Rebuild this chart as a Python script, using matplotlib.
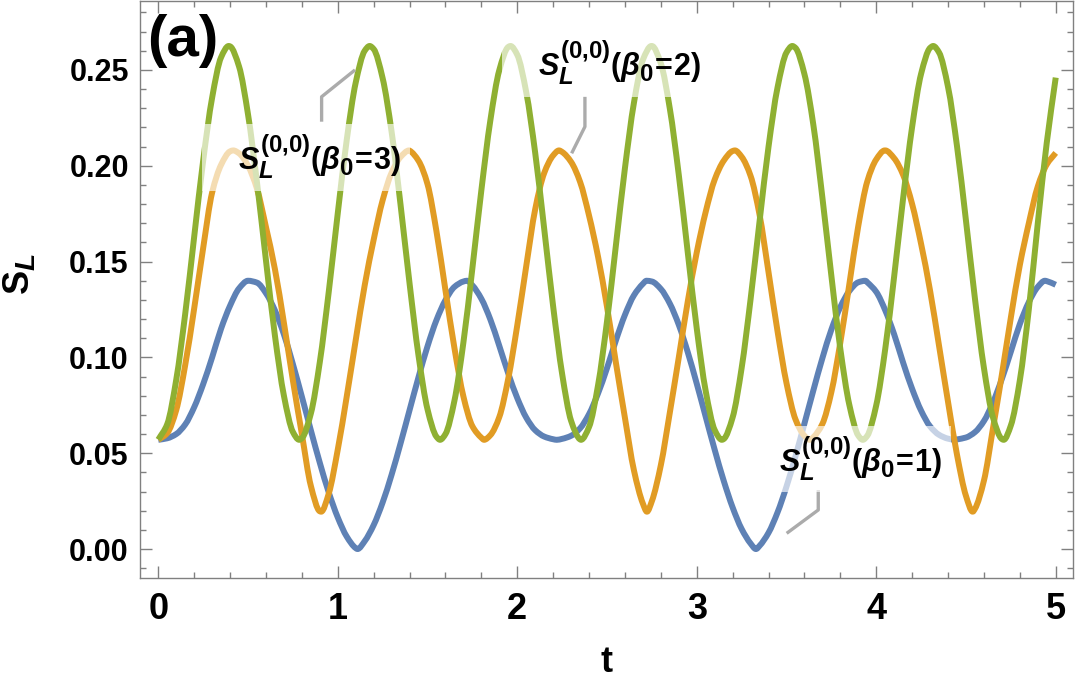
import numpy as np
import matplotlib
matplotlib.use("Agg")
from matplotlib import pyplot as plt
import matplotlib._mathtext as mtext
from matplotlib.path import Path
from matplotlib.patches import PathPatch
from matplotlib.ticker import MultipleLocator, FormatStrFormatter

plt.rcParams['font.family'] = ['Liberation Sans', 'DejaVu Sans']
plt.rcParams['font.weight'] = 'bold'
plt.rcParams['mathtext.fontset'] = 'custom'
plt.rcParams['mathtext.rm'] = 'Liberation Sans:bold'
plt.rcParams['mathtext.it'] = 'Liberation Sans:italic:bold'
plt.rcParams['mathtext.bf'] = 'Liberation Sans:bold'
mtext.SHRINK_FACTOR = 0.78  # slightly larger super/subscripts

# sampling times, step 0.05
t = np.linspace(0, 5, 101)

# S_L for beta0 = 1 (blue)
s_beta1 = [
    0.0570, 0.0578, 0.0600, 0.0650, 0.0740, 0.0860, 0.1000, 0.1150, 0.1270, 0.1360,
    0.1400, 0.1390, 0.1335, 0.1245, 0.1120, 0.0965, 0.0795, 0.0620, 0.0450, 0.0295,
    0.0165, 0.0065, 0.0005, 0.0041, 0.0125, 0.0243, 0.0388, 0.0552, 0.0725, 0.0897,
    0.1058, 0.1195, 0.1299, 0.1368, 0.1396, 0.1376, 0.1306, 0.1198, 0.1060, 0.0916,
    0.0788, 0.0686, 0.0620, 0.0587, 0.0573, 0.0575, 0.0591, 0.0630, 0.0704, 0.0812,
    0.0944, 0.1090, 0.1222, 0.1324, 0.1384, 0.1396, 0.1357, 0.1281, 0.1170, 0.1027,
    0.0863, 0.0690, 0.0518, 0.0357, 0.0217, 0.0105, 0.0029, 0.0017, 0.0085, 0.0191,
    0.0326, 0.0484, 0.0655, 0.0829, 0.0996, 0.1145, 0.1263, 0.1346, 0.1392, 0.1392,
    0.1342, 0.1246, 0.1120, 0.0972, 0.0836, 0.0722, 0.0640, 0.0596, 0.0576, 0.0572,
    0.0582, 0.0610, 0.0668, 0.0764, 0.0888, 0.1030, 0.1174, 0.1288, 0.1368, 0.1398,
    0.1379]
# turning points
t_ext1 = [1.11, 1.72, 2.22, 2.72, 3.33, 3.94, 4.44, 4.94]
s_ext1 = [0.0, 0.140, 0.057, 0.140, 0.0, 0.140, 0.057, 0.140]

# S_L for beta0 = 2 (orange)
s_beta2 = [
    0.0570, 0.0605, 0.0725, 0.0960, 0.1255, 0.1570, 0.1860, 0.2005, 0.2075, 0.2065,
    0.2000, 0.1880, 0.1680, 0.1460, 0.1180, 0.0880, 0.0600, 0.0330, 0.0197, 0.0290,
    0.0519, 0.0796, 0.1090, 0.1376, 0.1614, 0.1820, 0.1964, 0.2046, 0.2079, 0.2026,
    0.1904, 0.1657, 0.1350, 0.1049, 0.0796, 0.0641, 0.0581, 0.0594, 0.0689, 0.0890,
    0.1167, 0.1476, 0.1773, 0.1962, 0.2054, 0.2072, 0.2020, 0.1916, 0.1740, 0.1526,
    0.1264, 0.0970, 0.0684, 0.0411, 0.0237, 0.0250, 0.0438, 0.0712, 0.1000, 0.1292,
    0.1548, 0.1760, 0.1928, 0.2026, 0.2077, 0.2047, 0.1947, 0.1744, 0.1444, 0.1137,
    0.0866, 0.0677, 0.0591, 0.0584, 0.0653, 0.0819, 0.1078, 0.1381, 0.1686, 0.1918,
    0.2033, 0.2080, 0.2039, 0.1952, 0.1800, 0.1592, 0.1348, 0.1060, 0.0768, 0.0492,
    0.0277, 0.0210, 0.0357, 0.0628, 0.0910, 0.1208, 0.1482, 0.1700, 0.1892, 0.2007,
    0.2067]
t_ext2 = [0.4175, 0.9075, 1.3975, 1.815, 2.2325, 2.7225, 3.2125, 3.63, 4.0475, 4.5375]
s_ext2 = [0.208, 0.0195, 0.208, 0.057, 0.208, 0.0195, 0.208, 0.057, 0.208, 0.0195]

# S_L for beta0 = 3 (green)
s_beta3 = [
    0.0571, 0.0652, 0.0883, 0.1227, 0.1629, 0.2026, 0.2355, 0.2566, 0.2623, 0.2518,
    0.2268, 0.1913, 0.1506, 0.1113, 0.0800, 0.0611, 0.0578, 0.0707, 0.0976, 0.1344,
    0.1752, 0.2135, 0.2434, 0.2600, 0.2609, 0.2457, 0.2177, 0.1795, 0.1386, 0.1009,
    0.0729, 0.0586, 0.0600, 0.0774, 0.1078, 0.1465, 0.1872, 0.2236, 0.2499, 0.2620,
    0.2579, 0.2384, 0.2067, 0.1672, 0.1266, 0.0914, 0.0669, 0.0572, 0.0637, 0.0854,
    0.1188, 0.1588, 0.1988, 0.2328, 0.2553, 0.2625, 0.2534, 0.2298, 0.1952, 0.1547,
    0.1151, 0.0824, 0.0621, 0.0574, 0.0687, 0.0944, 0.1304, 0.1710, 0.2100, 0.2408,
    0.2591, 0.2615, 0.2478, 0.2211, 0.1834, 0.1426, 0.1044, 0.0753, 0.0592, 0.0591,
    0.0750, 0.1043, 0.1424, 0.1832, 0.2203, 0.2480, 0.2615, 0.2591, 0.2411, 0.2102,
    0.1713, 0.1306, 0.0945, 0.0688, 0.0574, 0.0645, 0.0880, 0.1250, 0.1700, 0.2120,
    0.2460]
t_ext3 = [0.3925, 0.785, 1.1775, 1.57, 1.9625, 2.355, 2.7475, 3.14, 3.5325,
          3.925, 4.3175, 4.71]
s_ext3 = [0.2625, 0.057, 0.2625, 0.057, 0.2625, 0.057, 0.2625, 0.057, 0.2625,
          0.057, 0.2625, 0.057]


def merged(tg, sg, te, se):
    tt = np.concatenate([tg, te])
    ss = np.concatenate([sg, se])
    o = np.argsort(tt)
    return tt[o], ss[o]


def smooth_path(x, y):
    # monotone cubic (Fritsch-Carlson) tangents, drawn as Bezier segments
    h = np.diff(x)
    d = np.diff(y) / h
    m = np.zeros_like(y)
    m[0], m[-1] = d[0], d[-1]
    for k in range(1, len(x) - 1):
        if d[k - 1] * d[k] > 0:
            w1 = 2 * h[k] + h[k - 1]
            w2 = h[k] + 2 * h[k - 1]
            m[k] = (w1 + w2) / (w1 / d[k - 1] + w2 / d[k])
    verts = [(x[0], y[0])]
    codes = [Path.MOVETO]
    for k in range(len(x) - 1):
        verts += [(x[k] + h[k] / 3, y[k] + m[k] * h[k] / 3),
                  (x[k + 1] - h[k] / 3, y[k + 1] - m[k + 1] * h[k] / 3),
                  (x[k + 1], y[k + 1])]
        codes += [Path.CURVE4] * 3
    return Path(verts, codes)


fig = plt.figure(figsize=(10.75, 6.84), dpi=100)
ax = fig.add_axes([0.1302, 0.1550, 0.8679, 0.8436])

series = [(s_beta1, t_ext1, s_ext1, '#5E81B5'),
          (s_beta2, t_ext2, s_ext2, '#E19C24'),
          (s_beta3, t_ext3, s_ext3, '#8FB032')]
for sg, te, se, col in series:
    tt, ss = merged(t, sg, te, se)
    ax.add_patch(PathPatch(smooth_path(tt, ss), fill=False, ec=col, lw=4.3,
                           capstyle='butt', joinstyle='round', zorder=2))

# callout labels with a translucent background
lab_kw = dict(fontsize=22, ha='center', va='center', zorder=5,
              bbox=dict(boxstyle='square,pad=0.3', fc='white', ec='none', alpha=0.65))
ax.text(0.825, 0.2045, r'$\ \ \ S_L^{(0{,}0)}(\beta_0\!=\!3)\ \ \ $', **lab_kw)
ax.text(2.495, 0.2535, r'$\ \ \ S_L^{(0{,}0)}(\beta_0\!=\!2)\ \ \ $', **lab_kw)
ax.text(3.835, 0.0470, r'$\ \ \ S_L^{(0{,}0)}(\beta_0\!=\!1)\ \ \ $', **lab_kw)

leader_kw = dict(color='#ababab', lw=2.4, solid_capstyle='butt', zorder=4)
ax.plot([1.096, 0.910, 0.910], [0.250, 0.236, 0.223], **leader_kw)
ax.plot([2.377, 2.377, 2.303], [0.2361, 0.2204, 0.2065], **leader_kw)
ax.plot([3.677, 3.677, 3.501], [0.0308, 0.0204, 0.0082], **leader_kw)

ax.text(0.0075, 0.93, '(a)', transform=ax.transAxes, fontsize=42,
        fontweight='bold', ha='left', va='center', zorder=6)

ax.set_xlim(-0.102, 5.096)
ax.set_ylim(-0.0151, 0.2860)

ax.xaxis.set_major_locator(MultipleLocator(1))
ax.xaxis.set_minor_locator(MultipleLocator(0.2))
ax.yaxis.set_major_locator(MultipleLocator(0.05))
ax.yaxis.set_minor_locator(MultipleLocator(0.01))
ax.xaxis.set_major_formatter(FormatStrFormatter('%d'))
ax.yaxis.set_major_formatter(FormatStrFormatter('%.2f'))

ax.tick_params(which='both', direction='in', top=True, right=True,
               color='#808080', width=1)
ax.tick_params(which='major', length=8.4)
ax.tick_params(which='minor', length=4.3)
ax.tick_params(axis='x', labelsize=26, pad=10)
ax.tick_params(axis='y', labelsize=22, pad=8)
for sp in ax.spines.values():
    sp.set_color('#808080')
    sp.set_linewidth(1)

ax.set_xlabel('t', fontsize=26, fontweight='bold', va='top')
ax.xaxis.set_label_coords(0.5, -0.116)
ax.set_ylabel(r'$\mathrm{S}_L$', fontsize=26, va='center')
ax.yaxis.set_label_coords(-0.13, 0.527)

fig.savefig('out.png', dpi=100)
